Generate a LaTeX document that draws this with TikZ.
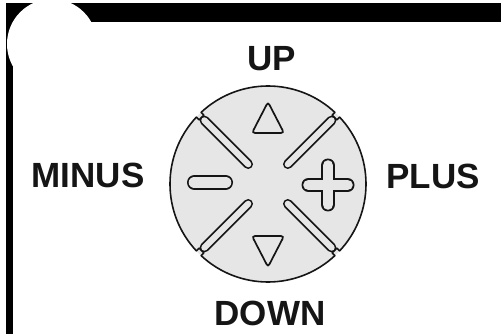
\documentclass[tikz,border=0pt]{standalone}
\usepackage{fontspec}
\setmainfont{Liberation Sans}
\usepackage{tikz}
\usetikzlibrary{positioning}

\definecolor{padgray}{HTML}{E6E6E6}
\definecolor{ink}{HTML}{151515}

\begin{document}
\begin{tikzpicture}[
  x=1pt,y=-1pt,
  node distance=15pt,
  lbl/.style={font=\bfseries\fontsize{35}{35}\selectfont,text=ink,inner sep=0pt},
  pad/.style={circle,fill=padgray,minimum size=196pt,inner sep=0pt},
  rimline/.style={draw=ink,line width=1.6pt,line join=round},
  slotout/.style={ink,line cap=round},
  slotin/.style={padgray,line cap=round},
  arrowkey/.style={draw=ink,fill=padgray,line width=1.7pt,rounded corners=3pt}
]
\useasboundingbox (0,0) rectangle (501,334);

% frame corner
\fill[black] (6,3) rectangle (501,22);
\fill[black] (6,3) rectangle (13,334);
\fill[white] (52,44) circle[radius=45];

% the pad
\node[pad] (pad) at (268,184) {};
\begin{scope}[shift={(pad.center)}]
  % rim with small notches at the diagonals
  \draw[rimline] (47:98)
    \foreach \a in {45,135,225,315} {
      arc[start angle=\a+2, end angle=\a+88, radius=98]
      -- (\a+88:94) arc[start angle=\a+88, end angle=\a+92, radius=94]
      -- (\a+92:98)
    } -- cycle;
  % diagonal slots
  \foreach \a in {45,135,225,315} {
    \draw[slotout,line width=9.6pt] (\a:28) -- (\a:90);
    \draw[slotin,line width=6.2pt] (\a:28) -- (\a:90);
  }
  % minus key
  \draw[slotout,line width=15pt] (-73.5,-1.5) -- (-42.5,-1.5);
  \draw[slotin,line width=11.6pt] (-73.5,-1.5) -- (-42.5,-1.5);
  % plus key
  \draw[slotout,line width=14pt] (40.5,1) -- (79.5,1) (60,-18.5) -- (60,20.5);
  \draw[slotin,line width=10.6pt] (40.5,1) -- (79.5,1) (60,-18.5) -- (60,20.5);
  % up and down keys
  \draw[arrowkey] (0,-82) -- (16,-51) -- (-16,-51) -- cycle;
  \draw[arrowkey] (0,83) -- (16,52) -- (-16,52) -- cycle;
\end{scope}

% labels
\node[lbl,above=15pt of pad,xshift=4pt] (up) {UP};
\node[lbl,below=19pt of pad,xshift=2pt] (down) {DOWN};
\node[lbl,left=25pt of pad,yshift=8.5pt] (minus) {MINUS};
\node[lbl,right=20pt of pad,yshift=7.5pt] (plus) {PLUS};

\end{tikzpicture}
\end{document}
